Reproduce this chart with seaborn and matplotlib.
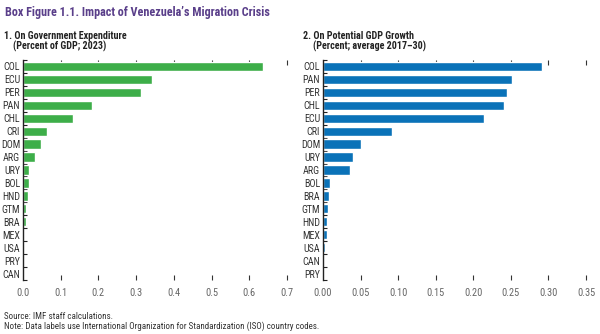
import matplotlib
matplotlib.use("Agg")
import matplotlib.pyplot as plt
import seaborn as sns
import pandas as pd
from matplotlib.ticker import FixedLocator

sns.set_theme(style="white")
plt.rcParams['font.family'] = ['Roboto Condensed', 'Archivo Narrow', 'DejaVu Sans']

# Panel 1 data
exp_countries = ["COL", "ECU", "PER", "PAN", "CHL", "CRI", "DOM", "ARG", "URY", "BOL",
                 "HND", "GTM", "BRA", "MEX", "USA", "PRY", "CAN"]
exp_values = [0.636, 0.342, 0.314, 0.183, 0.133, 0.063, 0.047, 0.032, 0.015, 0.015,
              0.013, 0.009, 0.009, 0.001, 0.001, 0.001, 0.0005]

# Panel 2 data
gdp_countries = ["COL", "PAN", "PER", "CHL", "ECU", "CRI", "DOM", "URY", "ARG", "BOL",
                 "BRA", "GTM", "HND", "MEX", "USA", "CAN", "PRY"]
gdp_values = [0.291, 0.252, 0.245, 0.241, 0.214, 0.092, 0.050, 0.040, 0.036, 0.009,
              0.008, 0.007, 0.006, 0.006, 0.003, 0.001, 0.0005]

left_ticks = [0.0, 0.1, 0.2, 0.3, 0.4, 0.5, 0.6, 0.7]
left_ticklabels = ["0.0", "0.1", "0.2", "0.3", "0.4", "0.5", "0.6", "0.7"]
right_ticks = [0.0, 0.05, 0.10, 0.15, 0.20, 0.25, 0.30, 0.35]
right_ticklabels = ["0.00", "0.05", "0.10", "0.15", "0.20", "0.25", "0.30", "0.35"]

GREEN = "#3dae49"
BLUE = "#0a72b8"
PURPLE = "#5a3f8a"
TXT = "#333333"

fig = plt.figure(figsize=(6.0, 3.34), dpi=100)
ax1 = fig.add_axes([0.0383, 0.1617, 0.44, 0.6587])
ax2 = fig.add_axes([0.5383, 0.1617, 0.4384, 0.6587])

df1 = pd.DataFrame({"country": exp_countries, "value": exp_values})
df2 = pd.DataFrame({"country": gdp_countries, "value": gdp_values})

sns.barplot(data=df1, y="country", x="value", orient="h", color=GREEN,
            saturation=1, width=0.72, ax=ax1)
sns.barplot(data=df2, y="country", x="value", orient="h", color=BLUE,
            saturation=1, width=0.72, ax=ax2)

for ax, ticks, labels, xmax in [(ax1, left_ticks, left_ticklabels, 0.7),
                                (ax2, right_ticks, right_ticklabels, 0.35)]:
    ax.set_xlim(0, xmax)
    ax.set_ylim(16.5, -0.5)
    ax.set_xticks(ticks)
    ax.set_xticklabels(labels)
    ax.set_xlabel("")
    ax.set_ylabel("")
    for s in ["top", "bottom", "right"]:
        ax.spines[s].set_visible(False)
    ax.spines["left"].set_color("#222222")
    ax.spines["left"].set_linewidth(1.0)
    ax.tick_params(axis="x", direction="in", top=True, bottom=True, length=3.5,
                   width=0.8, color="#333333", labelsize=7.5, labelcolor="#666666", pad=6)
    ax.tick_params(axis="y", which="major", length=0, labelsize=7.2, labelcolor=TXT, pad=2)
    ax.yaxis.set_minor_locator(FixedLocator([i + 0.5 for i in range(-1, 17)]))
    ax.tick_params(axis="y", which="minor", direction="in", length=3, width=0.8,
                   color="#222222", left=True)
    ax.xaxis.get_major_ticks()[0].tick1line.set_visible(False)
    ax.xaxis.get_major_ticks()[0].tick2line.set_visible(False)

fig.text(0.008, 0.983, "Box Figure 1.1. Impact of Venezuela\u2019s Migration Crisis",
         fontsize=8.7, fontweight="bold", color=PURPLE, va="top", ha="left")
fig.text(0.006, 0.907, "1. On Government Expenditure", fontsize=7.2,
         fontweight="bold", color="#222222", va="top", ha="left")
fig.text(0.022, 0.877, "(Percent of GDP; 2023)", fontsize=7.2,
         fontweight="bold", color="#222222", va="top", ha="left")
fig.text(0.505, 0.907, "2. On Potential GDP Growth", fontsize=7.2,
         fontweight="bold", color="#222222", va="top", ha="left")
fig.text(0.522, 0.877, "(Percent; average 2017\u201330)", fontsize=7.2,
         fontweight="bold", color="#222222", va="top", ha="left")

fig.text(0.007, 0.053, "Source: IMF staff calculations.", fontsize=6.5,
         color="#333333", va="center", ha="left")
fig.text(0.007, 0.022, "Note: Data labels use International Organization for Standardization (ISO) country codes.",
         fontsize=6.5, color="#333333", va="center", ha="left")

fig.savefig("out.png", dpi=100, facecolor="white")
